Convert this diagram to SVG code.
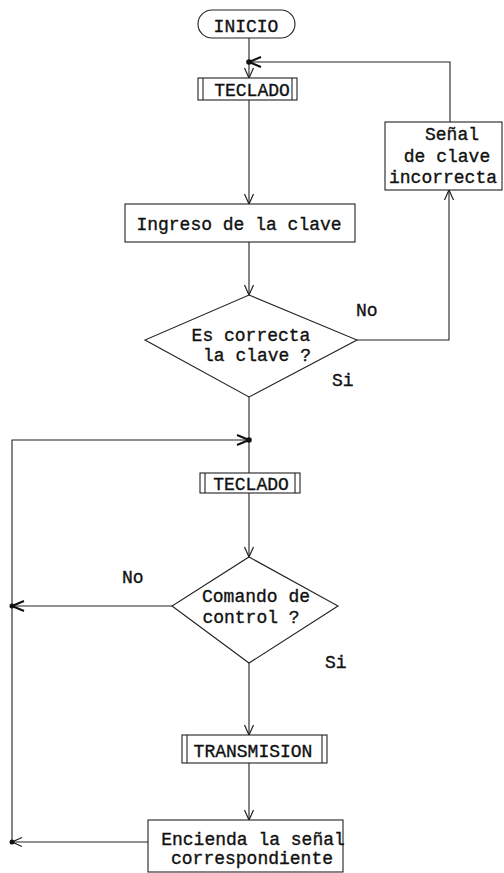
<svg xmlns="http://www.w3.org/2000/svg" width="504" height="873" viewBox="0 0 504 873">
  <defs>
    <style>
      .box { fill: #fff; stroke: #222; stroke-width: 1.1; }
      .ln { fill: none; stroke: #222; stroke-width: 1.1; }
      .t { font-family: "Liberation Mono", "Courier New", monospace; font-size: 18px; fill: #111; stroke: #111; stroke-width: 0.35; text-anchor: middle; }
      .lbl { font-family: "Liberation Mono", "Courier New", monospace; font-size: 18px; fill: #111; stroke: #111; stroke-width: 0.35; }
    </style>
    <marker id="chev" viewBox="0 0 12 12" refX="11" refY="6" markerWidth="12" markerHeight="12" markerUnits="userSpaceOnUse" orient="auto">
      <path d="M1,1.5 L11,6 L1,10.5" fill="none" stroke="#222" stroke-width="1.2"/>
    </marker>
    <marker id="chevB" viewBox="0 0 14 14" refX="13" refY="7" markerWidth="14" markerHeight="14" markerUnits="userSpaceOnUse" orient="auto">
      <path d="M1,2 L13,7 L1,12" fill="none" stroke="#111" stroke-width="2"/>
    </marker>
  </defs>

  <!-- connectors -->
  <g id="connectors">
    <line class="ln" x1="249" y1="38" x2="249" y2="78" marker-end="url(#chev)"/>
    <polyline class="ln" points="450,122 450,62 249,62" marker-end="url(#chevB)"/>
    <line class="ln" x1="249" y1="100" x2="249" y2="204" marker-end="url(#chev)"/>
    <line class="ln" x1="249" y1="242" x2="249" y2="295" marker-end="url(#chev)"/>
    <polyline class="ln" points="357,340 449,340 449,190" marker-end="url(#chev)"/>
    <line class="ln" x1="249" y1="397" x2="249" y2="473"/>
    <polyline class="ln" points="12,842 12,440 249,440" marker-end="url(#chevB)"/>
    <line class="ln" x1="249" y1="493" x2="249" y2="557" marker-end="url(#chev)"/>
    <line class="ln" x1="172" y1="606" x2="12" y2="606" marker-end="url(#chevB)"/>
    <line class="ln" x1="249" y1="663" x2="249" y2="735" marker-end="url(#chev)"/>
    <line class="ln" x1="249" y1="763" x2="249" y2="820" marker-end="url(#chev)"/>
    <line class="ln" x1="148" y1="842" x2="12" y2="842" marker-end="url(#chev)"/>
    <circle cx="249" cy="62" r="2.8" fill="#111"/>
    <circle cx="249" cy="440" r="2.8" fill="#111"/>
    <circle cx="12" cy="606" r="2.5" fill="#111"/>
    <circle cx="12" cy="842" r="2.5" fill="#111"/>
  </g>

  <!-- labels on branches -->
  <g id="labels">
    <text class="lbl" x="356" y="316">No</text>
    <text class="lbl" x="332" y="386">Si</text>
    <text class="lbl" x="122" y="583">No</text>
    <text class="lbl" x="325" y="668">Si</text>
  </g>

  <g id="inicio">
    <rect class="box" x="198" y="10" width="97" height="28" rx="14" ry="14"/>
    <text class="t" x="246" y="32">INICIO</text>
  </g>

  <g id="teclado1">
    <rect class="box" x="198" y="78" width="99" height="22"/>
    <line class="ln" x1="203" y1="78" x2="203" y2="100"/>
    <line class="ln" x1="292" y1="78" x2="292" y2="100"/>
    <text class="t" x="252" y="96">TECLADO</text>
  </g>

  <g id="senal-incorrecta">
    <rect class="box" x="385" y="122" width="117" height="68"/>
    <text class="t" x="452" y="140">Señal</text>
    <text class="t" x="447" y="162">de clave</text>
    <text class="t" x="443" y="183">incorrecta</text>
  </g>

  <g id="ingreso">
    <rect class="box" x="125" y="204" width="230" height="38"/>
    <text class="t" x="239" y="230">Ingreso de la clave</text>
  </g>

  <g id="es-correcta">
    <polygon class="box" points="249,295 357,340 249,397 145,340"/>
    <text class="t" x="251" y="341">Es correcta</text>
    <text class="t" x="257" y="361">la clave ?</text>
  </g>

  <g id="teclado2">
    <rect class="box" x="200" y="473" width="100" height="20"/>
    <line class="ln" x1="205" y1="473" x2="205" y2="493"/>
    <line class="ln" x1="295" y1="473" x2="295" y2="493"/>
    <text class="t" x="251" y="490">TECLADO</text>
  </g>

  <g id="comando">
    <polygon class="box" points="249,557 338,606 249,663 172,606"/>
    <text class="t" x="256" y="602">Comando de</text>
    <text class="t" x="251" y="623">control ?</text>
  </g>

  <g id="transmision">
    <rect class="box" x="182" y="735" width="145" height="28"/>
    <line class="ln" x1="187" y1="735" x2="187" y2="763"/>
    <line class="ln" x1="322" y1="735" x2="322" y2="763"/>
    <text class="t" x="253" y="757">TRANSMISION</text>
  </g>

  <g id="encienda">
    <rect class="box" x="148" y="820" width="195" height="52"/>
    <text class="t" x="253" y="845">Encienda la señal</text>
    <text class="t" x="252" y="864">correspondiente</text>
  </g>
</svg>
